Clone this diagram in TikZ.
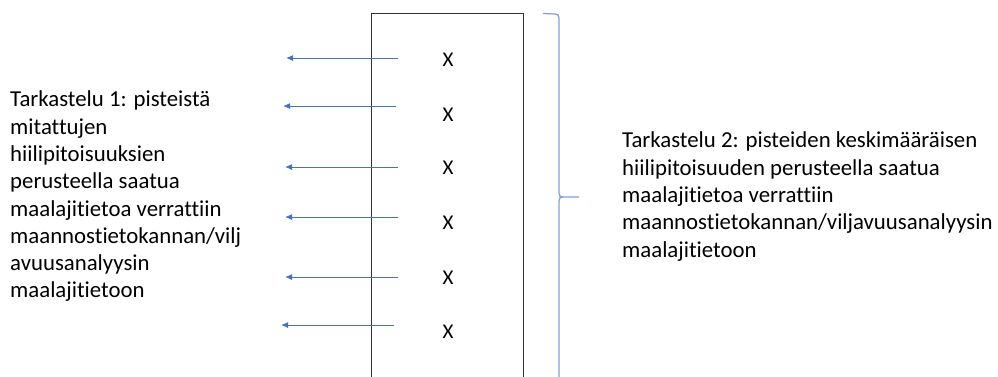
\documentclass[tikz,border=0pt]{standalone}
\usepackage{fontspec}
\setmainfont[Ligatures=NoCommon]{Carlito}
\usetikzlibrary{arrows.meta}
\definecolor{arrowblue}{HTML}{4472C4}
\definecolor{braceblue}{HTML}{7F9FD8}
\begin{document}
\begin{tikzpicture}[x=1pt,y=-1pt,
  conn/.style={draw=arrowblue,line width=1pt,-{Latex[length=7pt,width=6pt]}},
  xmark/.style={font=\fontsize{21}{24}\selectfont,inner sep=0pt},
  txt/.style={anchor=north west,align=left,inner sep=0pt,text=black,font=\fontsize{22.8}{27.3}\selectfont}]
\clip (0,0) rectangle (998,376);
\draw[line width=1pt,draw=black!80] (371,400) -- (371,13) -- (523,13) -- (523,400);
% X marks
\foreach \i/\y in {1/60,2/115,3/168,4/223,5/278,6/332}{
  \node[xmark] (x\i) at (448,\y) {X};
}
% arrows
\foreach \i/\y/\xs/\xe in {1/58/398/286,2/106/396/283,3/167/398/285,4/217/398/285,5/277/398/285,6/325/394/281}{
  \coordinate (s\i) at (\xs,\y);
  \coordinate (e\i) at (\xe,\y);
  \draw[conn] (s\i) -- (e\i);
}
% brace
\draw[braceblue,line width=1.2pt] (543,13.5) -- (555,14) .. controls (558,14) and (559,15) .. (559,18) -- (559,193) .. controls (559,196) and (560,197) .. (563,197) -- (579,197);
\draw[braceblue,line width=1.2pt] (563,197) .. controls (560,197) and (559,198) .. (559,201) -- (559,400);
% texts
\node[txt] (t1) at (10,90.8) {Tarkastelu 1: pisteistä\\mitattujen\\hiilipitoisuuksien\\perusteella saatua\\maalajitietoa verrattiin\\maannostietokannan/vilj\\avuusanalyysin\\maalajitietoon};
\node[txt] (t2) at (622,131.8) {Tarkastelu 2: pisteiden keskimääräisen\\hiilipitoisuuden perusteella saatua\\maalajitietoa verrattiin\\maannostietokannan/viljavuusanalyysin\\maalajitietoon};
\end{tikzpicture}
\end{document}
